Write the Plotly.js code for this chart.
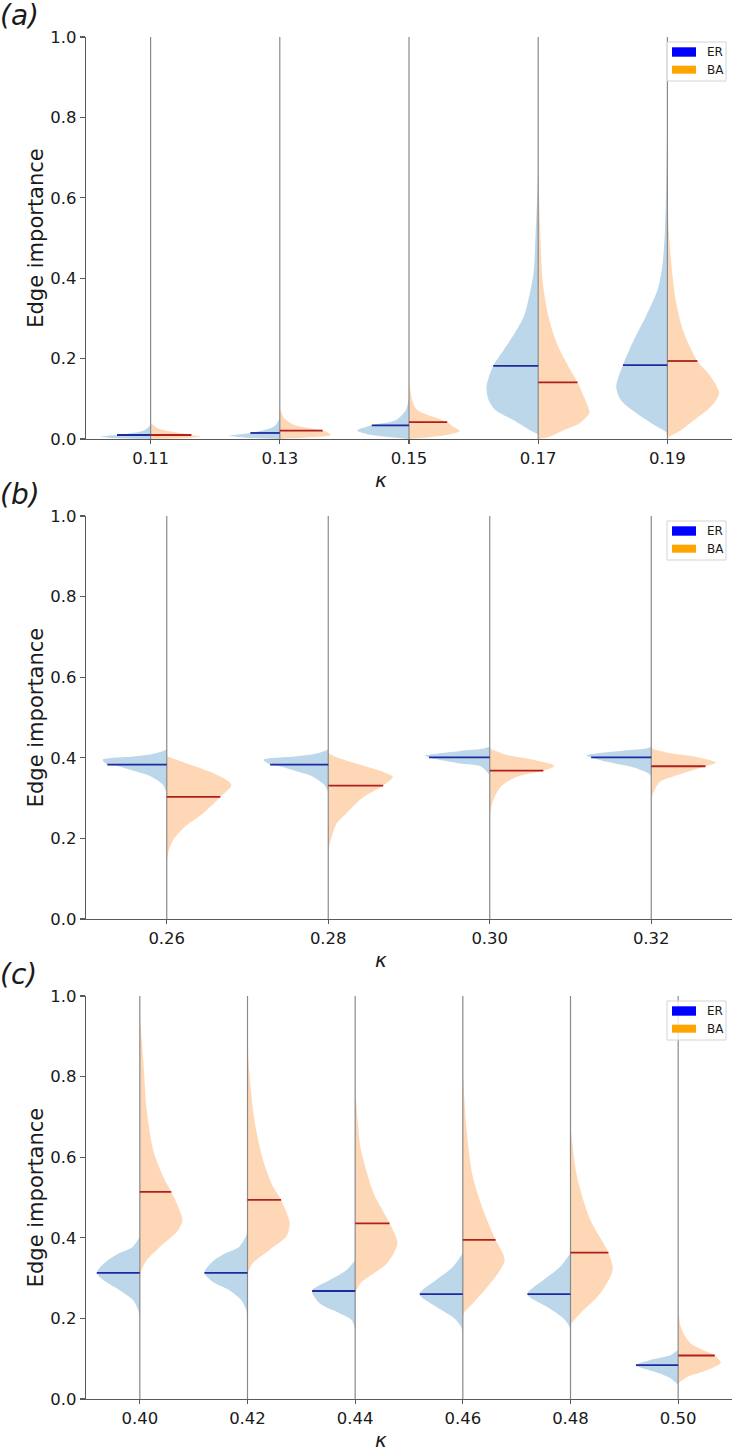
<!DOCTYPE html>
<html><head><meta charset="utf-8">
<script src="https://cdn.plot.ly/plotly-3.0.1.min.js"></script>
<style>html,body{margin:0;padding:0;background:#fff}</style>
</head><body><div id="chart" style="width:733px;height:1451px"></div>
<script>
// ---------------- DATA ----------------
// Each violin half: y values (top -> bottom) and relative density width (0..1)
const kappaA = ['0.11', '0.13', '0.15', '0.17', '0.19'];
const medianER_A = [0.010, 0.015, 0.034, 0.182, 0.184];
const medianBA_A = [0.010, 0.021, 0.042, 0.141, 0.194];
const erY_A = [
  [0.035, 0.022, 0.013, 0.010, 0.006, 0.003, 0.0],
  [0.052, 0.031, 0.015, 0.008, 0.004, 0.0],
  [0.105, 0.072, 0.047, 0.034, 0.021, 0.012, 0.005, 0.0],
  [0.68, 0.60, 0.51, 0.413, 0.346, 0.304, 0.264, 0.221, 0.182, 0.13, 0.097, 0.072, 0.047, 0.022, 0.012],
  [0.84, 0.65, 0.512, 0.428, 0.371, 0.304, 0.264, 0.221, 0.184, 0.13, 0.097, 0.065, 0.04, 0.018, 0.012]
];
const erW_A = [
  [0, 0.12, 0.45, 0.65, 0.96, 0.8, 0],
  [0, 0.11, 0.57, 0.98, 0.7, 0],
  [0, 0.06, 0.25, 0.72, 1.0, 0.8, 0.4, 0],
  [0, 0.02, 0.05, 0.09, 0.19, 0.28, 0.45, 0.67, 0.87, 1.0, 0.96, 0.83, 0.48, 0.16, 0],
  [0, 0.02, 0.05, 0.1, 0.19, 0.42, 0.58, 0.74, 0.86, 0.99, 0.9, 0.61, 0.32, 0.03, 0]
];
const baY_A = [
  [0.04, 0.027, 0.018, 0.010, 0.006, 0.003, 0.0],
  [0.077, 0.052, 0.035, 0.021, 0.010, 0.003, 0.0],
  [0.15, 0.097, 0.072, 0.042, 0.031, 0.020, 0.010, 0.002, 0.0],
  [0.69, 0.512, 0.388, 0.304, 0.238, 0.179, 0.141, 0.097, 0.065, 0.04, 0.022, 0.005, 0.0],
  [0.93, 0.70, 0.512, 0.346, 0.264, 0.194, 0.155, 0.114, 0.08, 0.047, 0.022, 0.005, 0.0]
];
const baW_A = [
  [0, 0.14, 0.43, 0.79, 0.98, 0.8, 0],
  [0, 0.08, 0.28, 0.83, 0.99, 0.45, 0],
  [0, 0.06, 0.16, 0.74, 0.85, 0.98, 0.72, 0.2, 0],
  [0, 0.04, 0.09, 0.2, 0.36, 0.59, 0.76, 0.91, 0.99, 0.81, 0.49, 0.2, 0],
  [0, 0.01, 0.03, 0.16, 0.32, 0.58, 0.84, 1.0, 0.84, 0.52, 0.26, 0.03, 0]
];

const kappaB = ['0.26', '0.28', '0.30', '0.32'];
const medianER_B = [0.383, 0.383, 0.401, 0.401];
const medianBA_B = [0.303, 0.331, 0.368, 0.379];
const erY_B = [
  [0.421, 0.416, 0.408, 0.403, 0.395, 0.383, 0.380, 0.368, 0.355, 0.333, 0.312],
  [0.421, 0.416, 0.408, 0.403, 0.395, 0.383, 0.380, 0.368, 0.355, 0.333, 0.314],
  [0.428, 0.423, 0.417, 0.405, 0.401, 0.393, 0.386, 0.379, 0.357],
  [0.428, 0.424, 0.418, 0.406, 0.401, 0.390, 0.376, 0.361, 0.355]
];
const erW_B = [
  [0, 0.06, 0.26, 0.52, 0.99, 0.92, 0.78, 0.52, 0.26, 0.06, 0],
  [0, 0.06, 0.26, 0.52, 1.0, 0.90, 0.78, 0.52, 0.26, 0.06, 0],
  [0, 0.09, 0.46, 1.0, 0.94, 0.71, 0.46, 0.14, 0],
  [0, 0.06, 0.42, 1.0, 0.93, 0.68, 0.27, 0.04, 0]
];
const baY_B = [
  [0.404, 0.386, 0.362, 0.333, 0.303, 0.262, 0.229, 0.196, 0.163, 0.127],
  [0.411, 0.40, 0.38, 0.365, 0.353, 0.331, 0.303, 0.29, 0.262, 0.237, 0.196, 0.171],
  [0.423, 0.409, 0.398, 0.380, 0.368, 0.353, 0.328, 0.288, 0.254],
  [0.423, 0.411, 0.403, 0.388, 0.379, 0.360, 0.341, 0.312, 0.295]
];
const baW_B = [
  [0, 0.31, 0.72, 1.0, 0.83, 0.56, 0.28, 0.1, 0.02, 0],
  [0, 0.15, 0.55, 0.85, 1.0, 0.85, 0.55, 0.45, 0.28, 0.13, 0.04, 0],
  [0, 0.22, 0.58, 1.0, 0.83, 0.42, 0.17, 0.04, 0],
  [0, 0.3, 0.66, 1.0, 0.84, 0.46, 0.14, 0.03, 0]
];

const kappaC = ['0.40', '0.42', '0.44', '0.46', '0.48', '0.50'];
const medianER_C = [0.313, 0.313, 0.268, 0.260, 0.260, 0.084];
const medianBA_C = [0.514, 0.494, 0.436, 0.395, 0.363, 0.108];
const erY_C = [
  [0.403, 0.378, 0.362, 0.341, 0.313, 0.295, 0.270, 0.246, 0.221, 0.196],
  [0.411, 0.378, 0.362, 0.341, 0.313, 0.291, 0.270, 0.246, 0.221, 0.196],
  [0.345, 0.320, 0.295, 0.268, 0.237, 0.213, 0.196, 0.171],
  [0.362, 0.328, 0.295, 0.260, 0.229, 0.200, 0.179, 0.155],
  [0.362, 0.328, 0.295, 0.260, 0.229, 0.200, 0.179, 0.160],
  [0.122, 0.109, 0.097, 0.084, 0.068, 0.051, 0.035]
];
const erW_C = [
  [0, 0.16, 0.47, 0.78, 1.0, 0.85, 0.47, 0.16, 0.04, 0],
  [0, 0.19, 0.5, 0.81, 1.0, 0.81, 0.42, 0.15, 0.03, 0],
  [0, 0.2, 0.59, 1.0, 0.82, 0.36, 0.08, 0],
  [0, 0.23, 0.62, 1.0, 0.62, 0.19, 0.04, 0],
  [0, 0.24, 0.63, 1.0, 0.55, 0.16, 0.02, 0],
  [0, 0.17, 0.64, 0.98, 0.56, 0.17, 0]
];
const baY_C = [
  [0.949, 0.841, 0.717, 0.618, 0.552, 0.514, 0.477, 0.444, 0.419, 0.378, 0.345, 0.320, 0.303],
  [0.883, 0.800, 0.692, 0.593, 0.527, 0.494, 0.436, 0.403, 0.370, 0.337, 0.313],
  [0.775, 0.70, 0.626, 0.593, 0.510, 0.436, 0.386, 0.337, 0.287, 0.26],
  [0.816, 0.676, 0.552, 0.461, 0.395, 0.345, 0.295, 0.237, 0.213, 0.20],
  [0.676, 0.552, 0.444, 0.363, 0.320, 0.262, 0.213, 0.188, 0.18],
  [0.262, 0.179, 0.138, 0.108, 0.090, 0.072, 0.055, 0.039]
];
const baW_C = [
  [0, 0.08, 0.16, 0.31, 0.54, 0.73, 0.89, 0.99, 0.89, 0.47, 0.16, 0.04, 0],
  [0, 0.05, 0.16, 0.36, 0.59, 0.78, 0.98, 0.9, 0.51, 0.12, 0],
  [0, 0.05, 0.12, 0.19, 0.43, 0.8, 0.98, 0.74, 0.12, 0],
  [0, 0.08, 0.23, 0.5, 0.76, 0.97, 0.7, 0.23, 0.02, 0],
  [0, 0.15, 0.46, 0.88, 0.98, 0.69, 0.23, 0.03, 0],
  [0, 0.06, 0.29, 0.85, 0.99, 0.68, 0.22, 0]
];

const seriesNames = ['ER', 'BA'];
const panelLabels = ['(a)', '(b)', '(c)'];
const yTickVals = [0, 0.2, 0.4, 0.6, 0.8, 1.0];

// ---------------- STYLE / LAYOUT ----------------
const HALF = 0.4;               // max half-width in category units
const FILL_ER = '#bcd6ea', FILL_BA = '#fed8b6';
const MED_ER = '#1f2a9e', MED_BA = '#b01e1e';
const VLINE = '#8a8a8a';
const FONT = 'DejaVu Sans';
const W = 733, H = 1451;
const ML = 86, MR = 1, MT = 37, MB = 52;
const PW = W - ML - MR, PH = H - MT - MB;
const px2x = px => (px - ML) / PW;
const py2y = py => (H - MB - py) / PH;

const panels = [
  {kappa: kappaA, erY: erY_A, erW: erW_A, baY: baY_A, baW: baW_A, mER: medianER_A, mBA: medianBA_A, top: 37, bot: 439},
  {kappa: kappaB, erY: erY_B, erW: erW_B, baY: baY_B, baW: baW_B, mER: medianER_B, mBA: medianBA_B, top: 516, bot: 919},
  {kappa: kappaC, erY: erY_C, erW: erW_C, baY: baY_C, baW: baW_C, mER: medianER_C, mBA: medianBA_C, top: 996, bot: 1399}
];

function interp(ys, ws, m) {
  for (let k = 0; k < ys.length - 1; k++) {
    if (ys[k] >= m && m >= ys[k + 1]) {
      const t = (ys[k] - m) / ((ys[k] - ys[k + 1]) || 1);
      return ws[k] + t * (ws[k + 1] - ws[k]);
    }
  }
  return 0;
}

const traces = [];
const layout = {
  width: W, height: H,
  margin: {l: ML, r: MR, t: MT, b: MB, pad: 0},
  paper_bgcolor: '#ffffff', plot_bgcolor: '#ffffff',
  showlegend: false,
  font: {family: FONT, color: '#1a1a1a'},
  shapes: [], annotations: []
};

panels.forEach((p, pi) => {
  const suf = pi === 0 ? '' : String(pi + 1);
  const xa = 'x' + suf, ya = 'y' + suf;
  const n = p.kappa.length;
  // violin halves
  for (let i = 0; i < n; i++) {
    traces.push({
      type: 'scatter', mode: 'lines', xaxis: xa, yaxis: ya, hoverinfo: 'skip',
      x: p.erW[i].map(w => i - HALF * w), y: p.erY[i],
      fill: 'toself', fillcolor: FILL_ER,
      line: {width: 0, shape: 'spline', smoothing: 0.8, color: FILL_ER}
    });
    traces.push({
      type: 'scatter', mode: 'lines', xaxis: xa, yaxis: ya, hoverinfo: 'skip',
      x: p.baW[i].map(w => i + HALF * w), y: p.baY[i],
      fill: 'toself', fillcolor: FILL_BA,
      line: {width: 0, shape: 'spline', smoothing: 0.8, color: FILL_BA}
    });
  }
  // vertical category lines
  const vx = [], vy = [];
  for (let i = 0; i < n; i++) { vx.push(i, i, null); vy.push(0, 1, null); }
  traces.push({type: 'scatter', mode: 'lines', xaxis: xa, yaxis: ya, hoverinfo: 'skip',
    x: vx, y: vy, line: {color: VLINE, width: 1.2}});
  // median lines
  const ex = [], ey = [], bx = [], by = [];
  for (let i = 0; i < n; i++) {
    const we = interp(p.erY[i], p.erW[i], p.mER[i]) * HALF;
    ex.push(i - we, i, null); ey.push(p.mER[i], p.mER[i], null);
    const wb = interp(p.baY[i], p.baW[i], p.mBA[i]) * HALF;
    bx.push(i, i + wb, null); by.push(p.mBA[i], p.mBA[i], null);
  }
  traces.push({type: 'scatter', mode: 'lines', xaxis: xa, yaxis: ya, hoverinfo: 'skip',
    x: ex, y: ey, line: {color: MED_ER, width: 1.8}, name: seriesNames[0] + ' median'});
  traces.push({type: 'scatter', mode: 'lines', xaxis: xa, yaxis: ya, hoverinfo: 'skip',
    x: bx, y: by, line: {color: MED_BA, width: 1.8}, name: seriesNames[1] + ' median'});

  const common = {showline: true, linecolor: '#595959', linewidth: 1.2, ticks: 'outside',
    tickcolor: '#595959', tickwidth: 1.2, showgrid: false, zeroline: false,
    tickfont: {family: FONT, size: 16.5, color: '#1a1a1a'}, fixedrange: true};
  layout['xaxis' + suf] = Object.assign({}, common, {
    domain: [0, 1], anchor: ya, range: [-0.5, n - 0.5], ticklen: 4,
    tickmode: 'array', tickvals: p.kappa.map((_, i) => i), ticktext: p.kappa
  });
  layout['yaxis' + suf] = Object.assign({}, common, {
    domain: [py2y(p.bot), Math.min(1, py2y(p.top))], anchor: xa, range: [0, 1], ticklen: 5,
    tickmode: 'array', tickvals: yTickVals, ticktext: yTickVals.map(v => v.toFixed(1)),
    title: {text: 'Edge importance', font: {family: FONT, size: 21, color: '#1a1a1a'}, standoff: 1}
  });

  // x axis title (kappa)
  layout.annotations.push({xref: 'paper', yref: 'paper', x: px2x(381), y: py2y(p.bot + 41),
    text: '<i>κ</i>', showarrow: false, xanchor: 'center', yanchor: 'middle',
    font: {family: FONT, size: 20, color: '#1a1a1a'}});
  // panel label
  layout.annotations.push({xref: 'paper', yref: 'paper', x: px2x(-2), y: py2y(p.top - 22),
    text: '<i>' + panelLabels[pi] + '</i>', showarrow: false, xanchor: 'left', yanchor: 'middle',
    font: {family: FONT, size: 28, color: '#1a1a1a'}});
  // legend (box, patches, texts)
  const t = p.top;
  layout.shapes.push({type: 'rect', xref: 'paper', yref: 'paper',
    x0: px2x(667), x1: px2x(726), y0: py2y(t + 44), y1: py2y(t + 5),
    fillcolor: 'rgba(255,255,255,0.8)', line: {color: '#d4d4d4', width: 1}});
  layout.shapes.push({type: 'rect', xref: 'paper', yref: 'paper',
    x0: px2x(672), x1: px2x(696), y0: py2y(t + 19.7), y1: py2y(t + 10.3),
    fillcolor: '#0000ff', line: {width: 0}});
  layout.shapes.push({type: 'rect', xref: 'paper', yref: 'paper',
    x0: px2x(672), x1: px2x(696), y0: py2y(t + 36.7), y1: py2y(t + 28.7),
    fillcolor: '#ffa500', line: {width: 0}});
  layout.annotations.push({xref: 'paper', yref: 'paper', x: px2x(705), y: py2y(t + 15),
    text: seriesNames[0], showarrow: false, xanchor: 'left', yanchor: 'middle',
    font: {family: FONT, size: 12, color: '#1a1a1a'}});
  layout.annotations.push({xref: 'paper', yref: 'paper', x: px2x(705), y: py2y(t + 32.7),
    text: seriesNames[1], showarrow: false, xanchor: 'left', yanchor: 'middle',
    font: {family: FONT, size: 12, color: '#1a1a1a'}});
});

Plotly.newPlot('chart', traces, layout, {staticPlot: true, displayModeBar: false});
</script></body></html>
